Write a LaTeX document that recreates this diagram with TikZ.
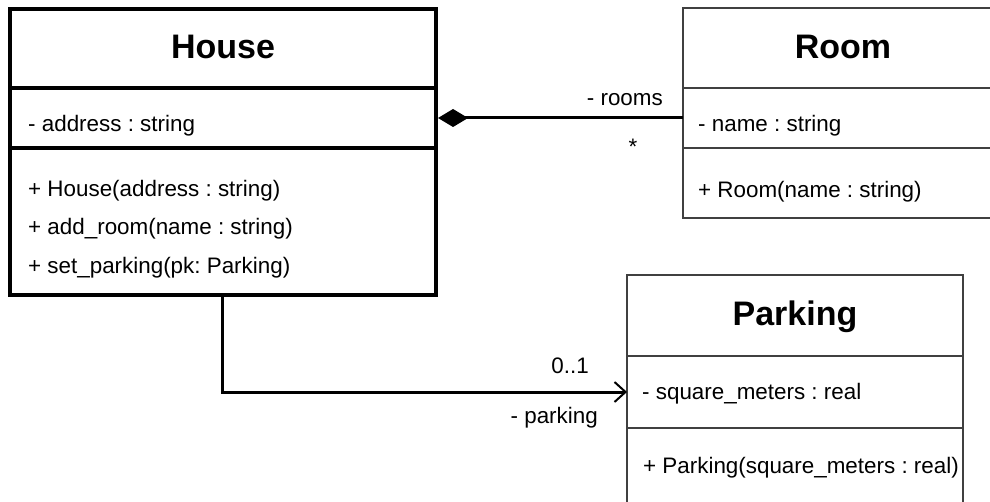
\documentclass[tikz,border=0pt]{standalone}
\usepackage{fontspec}
\setmainfont{Liberation Sans}
\frenchspacing
\usetikzlibrary{arrows.meta}
\tikzset{
  hbox/.style={draw=black, line width=4pt, rectangle, inner sep=0pt, outer sep=0pt, anchor=north west},
  tbox/.style={draw=black!75, line width=1.5pt, rectangle, inner sep=0pt, outer sep=0pt, anchor=north west},
  ttl/.style={font=\fontsize{34}{40}\selectfont\bfseries, inner sep=0pt},
  txt/.style={font=\fontsize{22.4}{26}\selectfont, inner sep=0pt, anchor=west},
  lbl/.style={font=\fontsize{22.4}{26}\selectfont, inner sep=0pt, anchor=east},
  comp/.style={draw=black, line width=3pt, {Diamond[length=30pt,width=18pt,fill=black]}-},
  assoc/.style={draw=black, line width=3pt, -{Straight Barb[length=11pt,width=20pt,line width=2pt]}}
}
\begin{document}
\begin{tikzpicture}[x=1pt,y=-1pt]
\useasboundingbox (0,0) rectangle (990,502);
\clip (0,0) rectangle (990,502);
\fill[white] (0,0) rectangle (990,502);
% House
\node[hbox, minimum width=426pt, minimum height=79pt] (houseT) at (10,9) {};
\node[hbox, minimum width=426pt, minimum height=60pt] (houseA) at (10,88) {};
\node[hbox, minimum width=426pt, minimum height=147pt] (houseM) at (10,148) {};
\node[ttl] (houseN) at (223,47) {House};
\node[txt] (houseA1) at (28,125.5) {- address : string};
\node[txt] (houseM1) at (28,190.5) {+ House(address : string)};
\node[txt] (houseM2) at (28,229) {+ add\_room(name : string)};
\node[txt] (houseM3) at (28,267.5) {+ set\_parking(pk: Parking)};
% Room
\node[tbox, minimum width=320pt, minimum height=80pt] (roomT) at (683,8) {};
\node[tbox, minimum width=320pt, minimum height=60pt] (roomA) at (683,88) {};
\node[tbox, minimum width=320pt, minimum height=70pt] (roomM) at (683,148) {};
\node[ttl] (roomN) at (843,47) {Room};
\node[txt] (roomA1) at (698,125.5) {- name : string};
\node[txt] (roomM1) at (698,191.5) {+ Room(name : string)};
% Parking
\node[tbox, minimum width=336pt, minimum height=81pt] (parkT) at (627,275) {};
\node[tbox, minimum width=336pt, minimum height=72pt] (parkA) at (627,356) {};
\node[tbox, minimum width=336pt, minimum height=90pt] (parkM) at (627,428) {};
\node[ttl] (parkN) at (795,317) {Parking};
\node[txt] (parkA1) at (642,393.5) {- square\_meters : real};
\node[txt] (parkM1) at (643,467.5) {+ Parking(square\_meters : real)};
% Connectors
\draw[comp] ([xshift=2pt]houseA.east) -- (roomA.west);
\node[lbl] (rooms) at (663,100) {- rooms};
\node[font=\fontsize{22.4}{26}\selectfont, inner sep=0pt, anchor=base] (star) at (633,155) {*};
\draw[assoc] ([xshift=-1pt,yshift=-2pt]houseM.south) |- (parkA.west);
\node[lbl] (mult) at (589,366) {0..1};
\node[lbl] (pk) at (598,418) {- parking};
\end{tikzpicture}
\end{document}
